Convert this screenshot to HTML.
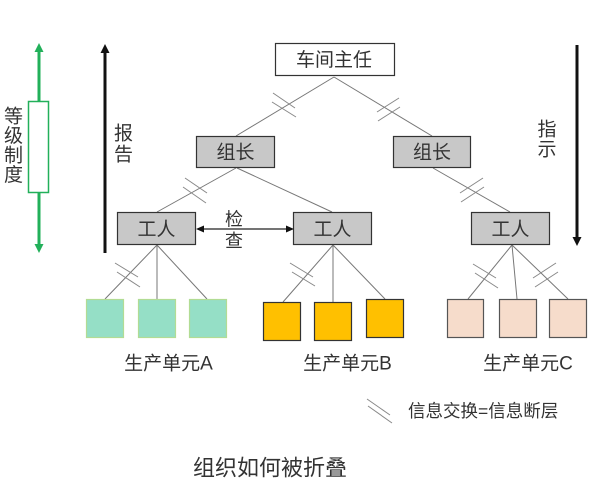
<!DOCTYPE html>
<html>
<head>
<meta charset="utf-8">
<style>
html,body{margin:0;padding:0;background:#fff;}
svg{display:block;}
text{font-family:"Liberation Sans","Noto Sans CJK SC",sans-serif;fill:#333;}
</style>
</head>
<body>
<svg width="600" height="483" viewBox="0 0 600 483" xmlns="http://www.w3.org/2000/svg">
  <!-- connectors -->
  <g stroke="#777" stroke-width="1" fill="none">
    <line x1="334" y1="77" x2="236" y2="136"/>
    <line x1="334" y1="77" x2="432" y2="136"/>
    <line x1="236" y1="168" x2="157" y2="212"/>
    <line x1="237" y1="168" x2="332" y2="212"/>
    <line x1="433" y1="168" x2="510" y2="212"/>
    <line x1="157" y1="245" x2="105" y2="299"/>
    <line x1="157" y1="245" x2="157" y2="299"/>
    <line x1="157" y1="245" x2="207" y2="299"/>
    <line x1="333" y1="245" x2="283" y2="302"/>
    <line x1="333" y1="245" x2="333" y2="302"/>
    <line x1="333" y1="245" x2="385" y2="299"/>
    <line x1="512" y1="245" x2="468" y2="299"/>
    <line x1="512" y1="245" x2="517" y2="299"/>
    <line x1="512" y1="245" x2="568" y2="299"/>
  </g>
  <!-- hash marks -->
  <g stroke="#888" stroke-width="1" fill="none">
    <line x1="273" y1="93" x2="295" y2="108"/><line x1="272" y1="102" x2="296" y2="117"/>
    <line x1="377" y1="112" x2="399" y2="98"/><line x1="378" y1="121" x2="400" y2="107"/>
    <line x1="185" y1="178" x2="207" y2="193"/><line x1="183" y1="187" x2="206" y2="203"/>
    <line x1="460" y1="193" x2="483" y2="178"/><line x1="461" y1="202" x2="484" y2="187"/>
    <line x1="115" y1="263" x2="138" y2="277"/><line x1="117" y1="272" x2="140" y2="287"/>
    <line x1="290" y1="263" x2="313" y2="277"/><line x1="292" y1="272" x2="315" y2="286"/>
    <line x1="473" y1="264" x2="496" y2="278"/><line x1="475" y1="273" x2="498" y2="288"/>
    <line x1="533" y1="278" x2="556" y2="263"/><line x1="535" y1="287" x2="558" y2="272"/>
    <line x1="367" y1="399" x2="390" y2="415"/><line x1="368" y1="406" x2="392" y2="423"/>
  </g>

  <!-- top box -->
  <rect x="275.5" y="43.5" width="119" height="32" fill="#fff" stroke="#333" stroke-width="1.2"/>
  <text x="334" y="66" font-size="19" text-anchor="middle">车间主任</text>

  <!-- group leaders -->
  <rect x="196.5" y="136.5" width="78" height="31" fill="#c8c8c8" stroke="#333" stroke-width="1.2"/>
  <text x="235.5" y="158.5" font-size="19" text-anchor="middle">组长</text>
  <rect x="393.5" y="136.5" width="77" height="31" fill="#c8c8c8" stroke="#333" stroke-width="1.2"/>
  <text x="432" y="158.5" font-size="19" text-anchor="middle">组长</text>

  <!-- workers -->
  <rect x="117.5" y="212.5" width="78" height="32" fill="#c8c8c8" stroke="#333" stroke-width="1.2"/>
  <text x="156.5" y="235.5" font-size="19" text-anchor="middle">工人</text>
  <rect x="293.5" y="212.5" width="78" height="32" fill="#c8c8c8" stroke="#333" stroke-width="1.2"/>
  <text x="332.5" y="235.5" font-size="19" text-anchor="middle">工人</text>
  <rect x="471.5" y="212.5" width="78" height="32" fill="#c8c8c8" stroke="#333" stroke-width="1.2"/>
  <text x="510.5" y="235.5" font-size="19" text-anchor="middle">工人</text>

  <!-- check double arrow -->
  <line x1="203" y1="229" x2="287" y2="229" stroke="#222" stroke-width="1.2"/>
  <polygon points="196,229 204,225.5 204,232.5" fill="#111"/>
  <polygon points="294,229 286,225.5 286,232.5" fill="#111"/>
  <text x="234" y="225.5" font-size="18" text-anchor="middle">检</text>
  <text x="234" y="247" font-size="18" text-anchor="middle">查</text>

  <!-- production units -->
  <g fill="#95dfc6" stroke="#b2dc94" stroke-width="1.2">
    <rect x="86.5" y="299.5" width="37" height="38"/>
    <rect x="138.5" y="299.5" width="37" height="38"/>
    <rect x="189.5" y="299.5" width="37" height="38"/>
  </g>
  <g fill="#ffc000" stroke="#333" stroke-width="1.2">
    <rect x="263.5" y="302.5" width="37" height="38"/>
    <rect x="314.5" y="302.5" width="37" height="38"/>
    <rect x="366.5" y="299.5" width="37" height="38"/>
  </g>
  <g fill="#f6dccb" stroke="#555" stroke-width="1.2">
    <rect x="447.5" y="299.5" width="36" height="38"/>
    <rect x="499.5" y="299.5" width="37" height="38"/>
    <rect x="549.5" y="299.5" width="37" height="38"/>
  </g>
  <text x="168.5" y="369.5" font-size="19" text-anchor="middle">生产单元A</text>
  <text x="347.5" y="369.5" font-size="19" text-anchor="middle">生产单元B</text>
  <text x="528" y="369.5" font-size="19" text-anchor="middle">生产单元C</text>

  <!-- green hierarchy arrow -->
  <line x1="39" y1="50" x2="39" y2="101" stroke="#22b05a" stroke-width="3"/>
  <line x1="39" y1="193" x2="39" y2="246" stroke="#22b05a" stroke-width="3"/>
  <polygon points="39,43 34.5,52 43.5,52" fill="#22b05a"/>
  <polygon points="39,253 34.5,244 43.5,244" fill="#22b05a"/>
  <rect x="28.5" y="101.5" width="20" height="91" fill="#fff" stroke="#22b05a" stroke-width="1.5"/>
  <text x="13.5" y="122.5" font-size="19" text-anchor="middle">等</text>
  <text x="13.5" y="142" font-size="19" text-anchor="middle">级</text>
  <text x="13.5" y="161.5" font-size="19" text-anchor="middle">制</text>
  <text x="13.5" y="181" font-size="19" text-anchor="middle">度</text>

  <!-- report arrow -->
  <line x1="105" y1="52" x2="105" y2="253" stroke="#111" stroke-width="3"/>
  <polygon points="105,44 100.5,53 109.5,53" fill="#111"/>
  <text x="123.5" y="139.5" font-size="19" text-anchor="middle">报</text>
  <text x="123.5" y="160.5" font-size="19" text-anchor="middle">告</text>

  <!-- instruct arrow -->
  <line x1="577" y1="45" x2="577" y2="238" stroke="#111" stroke-width="3"/>
  <polygon points="577,246 572.5,237 581.5,237" fill="#111"/>
  <text x="547" y="135.5" font-size="19" text-anchor="middle">指</text>
  <text x="547" y="155.5" font-size="19" text-anchor="middle">示</text>

  <!-- legend -->
  <text x="408" y="417" font-size="17.5">信息交换=信息断层</text>

  <!-- title -->
  <text x="270" y="475.5" font-size="22" text-anchor="middle">组织如何被折叠</text>
</svg>
</body>
</html>
